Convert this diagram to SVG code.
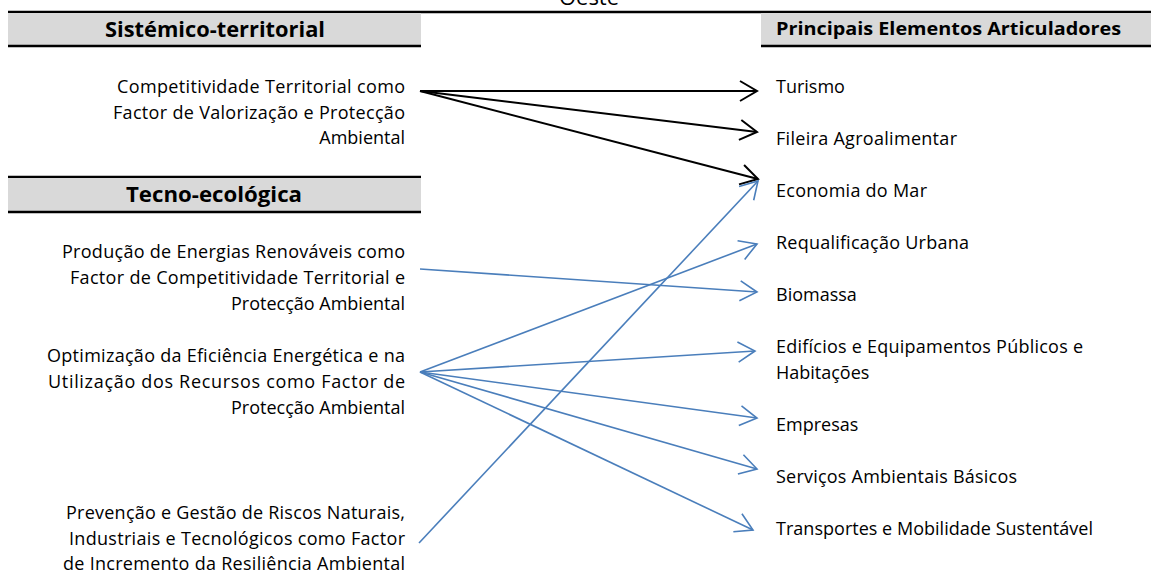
<svg xmlns="http://www.w3.org/2000/svg" width="1151" height="573" viewBox="0 0 1151 573">
<style>
text{font-family:"Open Sans","Liberation Sans",Arial,sans-serif;fill:#000}
.l{font-size:18px;text-anchor:end}
.r{font-size:18px}
.h{font-size:21px;font-weight:bold;text-anchor:middle}
.hr{font-size:18px;font-weight:bold}
.band{fill:#d9d9d9}
.rule{stroke:#000;stroke-width:2.5}
.k{stroke:#000;stroke-width:2;fill:none}
.b{stroke:#4a7ebb;stroke-width:1.6;fill:none}
</style>
<defs>
<marker id="ak" markerUnits="userSpaceOnUse" markerWidth="30" markerHeight="30" viewBox="-20 -15 25 30" refX="0" refY="0" orient="auto">
<path d="M-17,-10 L0,0 L-17,10" fill="none" stroke="#000" stroke-width="2"/>
</marker>
<marker id="ab" markerUnits="userSpaceOnUse" markerWidth="30" markerHeight="30" viewBox="-20 -15 25 30" refX="0" refY="0" orient="auto">
<path d="M-17,-10 L0,0 L-17,10" fill="none" stroke="#4a7ebb" stroke-width="1.6"/>
</marker>
</defs>
<rect width="1151" height="573" fill="#fff"/>
<text x="589" y="5" style="font-size:22px;text-anchor:middle">Oeste</text>
<line class="rule" x1="8" y1="12" x2="1151" y2="12"/>
<g id="hdr-sistemico">
<rect class="band" x="8" y="13" width="413" height="32"/>
<line class="rule" x1="8" y1="46" x2="421" y2="46"/>
<text class="h" x="215" y="37" textLength="220" lengthAdjust="spacingAndGlyphs">Sistémico-territorial</text>
</g>
<g id="hdr-principais">
<rect class="band" x="761" y="13" width="390" height="32"/>
<line class="rule" x1="761" y1="46" x2="1151" y2="46"/>
<text class="hr" x="776" y="35" textLength="345" lengthAdjust="spacingAndGlyphs">Principais Elementos Articuladores</text>
</g>
<g id="hdr-tecno">
<line class="rule" x1="8" y1="177" x2="421" y2="177"/>
<rect class="band" x="8" y="178" width="413" height="33"/>
<line class="rule" x1="8" y1="212" x2="421" y2="212"/>
<text class="h" x="214" y="202" textLength="176" lengthAdjust="spacingAndGlyphs">Tecno-ecológica</text>
</g>
<g id="src-competitividade">
<text class="l" x="405" y="93" textLength="288" lengthAdjust="spacing">Competitividade Territorial como</text>
<text class="l" x="405" y="119" textLength="292" lengthAdjust="spacing">Factor de Valorização e Protecção</text>
<text class="l" x="405" y="144">Ambiental</text>
</g>
<g id="src-producao">
<text class="l" x="405" y="258" textLength="343" lengthAdjust="spacing">Produção de Energias Renováveis como</text>
<text class="l" x="405" y="284" textLength="335" lengthAdjust="spacing">Factor de Competitividade Territorial e</text>
<text class="l" x="405" y="310">Protecção Ambiental</text>
</g>
<g id="src-optimizacao">
<text class="l" x="405" y="362" textLength="358" lengthAdjust="spacing">Optimização da Eficiência Energética e na</text>
<text class="l" x="405" y="388" textLength="357" lengthAdjust="spacing">Utilização dos Recursos como Factor de</text>
<text class="l" x="405" y="414">Protecção Ambiental</text>
</g>
<g id="src-prevencao">
<text class="l" x="405" y="519" textLength="339" lengthAdjust="spacing">Prevenção e Gestão de Riscos Naturais,</text>
<text class="l" x="405" y="545" textLength="336" lengthAdjust="spacing">Industriais e Tecnológicos como Factor</text>
<text class="l" x="405" y="570" textLength="342" lengthAdjust="spacing">de Incremento da Resiliência Ambiental</text>
</g>
<g id="t-turismo"><text class="r" x="776" y="93">Turismo</text></g>
<g id="t-fileira"><text class="r" x="776" y="145" textLength="181" lengthAdjust="spacing">Fileira Agroalimentar</text></g>
<g id="t-economia"><text class="r" x="776" y="197" textLength="151" lengthAdjust="spacing">Economia do Mar</text></g>
<g id="t-requalificacao"><text class="r" x="776" y="249" textLength="193" lengthAdjust="spacing">Requalificação Urbana</text></g>
<g id="t-biomassa"><text class="r" x="776" y="301">Biomassa</text></g>
<g id="t-edificios"><text class="r" x="776" y="353" textLength="307" lengthAdjust="spacing">Edifícios e Equipamentos Públicos e</text><text class="r" x="776" y="379">Habitações</text></g>
<g id="t-empresas"><text class="r" x="776" y="431">Empresas</text></g>
<g id="t-servicos"><text class="r" x="776" y="483" textLength="241" lengthAdjust="spacing">Serviços Ambientais Básicos</text></g>
<g id="t-transportes"><text class="r" x="776" y="535" textLength="317" lengthAdjust="spacing">Transportes e Mobilidade Sustentável</text></g>
<g id="connectors">
<line class="k" x1="420" y1="91" x2="757" y2="91" marker-end="url(#ak)"/>
<line class="k" x1="420" y1="91" x2="757" y2="132" marker-end="url(#ak)"/>
<line class="k" x1="420" y1="91" x2="758" y2="179" marker-end="url(#ak)"/>
<line class="b" x1="420" y1="269" x2="757" y2="292" marker-end="url(#ab)"/>
<line class="b" x1="420" y1="372" x2="757" y2="244" marker-end="url(#ab)"/>
<line class="b" x1="420" y1="372" x2="755" y2="351" marker-end="url(#ab)"/>
<line class="b" x1="420" y1="372" x2="757" y2="418" marker-end="url(#ab)"/>
<line class="b" x1="420" y1="372" x2="757" y2="469" marker-end="url(#ab)"/>
<line class="b" x1="420" y1="372" x2="753" y2="530" marker-end="url(#ab)"/>
<line class="b" x1="419" y1="543" x2="758" y2="181" marker-end="url(#ab)"/>
</g>
</svg>
